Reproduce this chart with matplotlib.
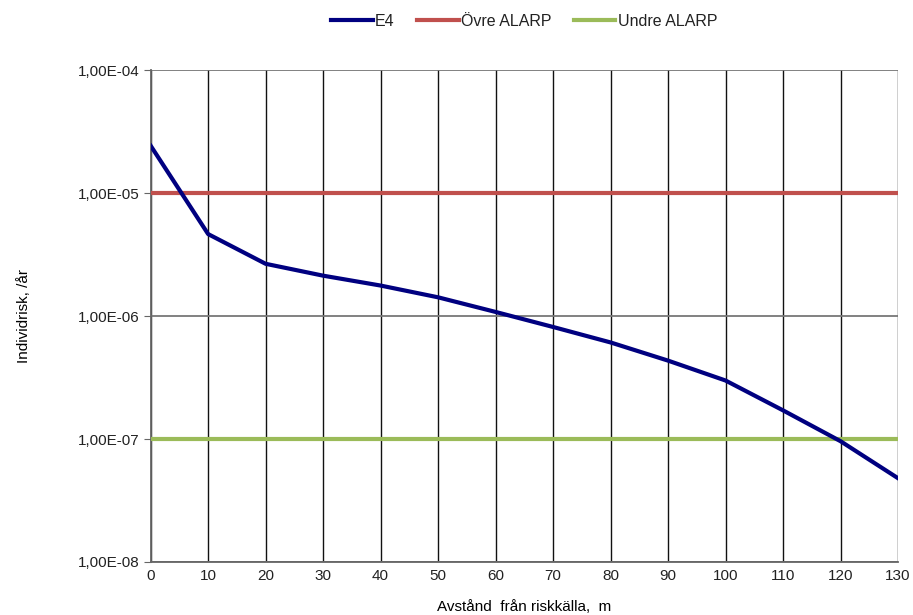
import matplotlib
matplotlib.use("Agg")
import matplotlib.pyplot as plt
from matplotlib.ticker import FixedLocator, FuncFormatter

plt.rcParams['font.family'] = ['Liberation Sans', 'DejaVu Sans']
plt.rcParams['font.size'] = 11
plt.rcParams['text.color'] = '#222222'
plt.rcParams['xtick.labelcolor'] = '#222222'
plt.rcParams['ytick.labelcolor'] = '#222222'

# data
distance = [0, 10, 20, 30, 40, 50, 60, 70, 80, 90, 100, 110, 120, 130]
e4 = [2.43e-5, 4.64e-6, 2.66e-6, 2.13e-6, 1.77e-6, 1.42e-6, 1.08e-6,
      8.15e-7, 6.1e-7, 4.34e-7, 2.99e-7, 1.71e-7, 9.6e-8, 4.8e-8]
ovre_alarp = [1e-5] * len(distance)
undre_alarp = [1e-7] * len(distance)
yticks = [1e-8, 1e-7, 1e-6, 1e-5, 1e-4]

fig = plt.figure(figsize=(9.13, 6.15), dpi=100)
ax = fig.add_axes([0.165, 0.0862, 0.8186, 0.7998])

# grid
for x in distance:
    ax.axvline(x, color='#111111', lw=1, zorder=1)
for y in yticks:
    ax.axhline(y, color='#777777', lw=1.3, zorder=1)

ax.plot(distance, e4, color='#000080', lw=3, label='E4', zorder=4)
ax.plot(distance, ovre_alarp, color='#c0504d', lw=3, label='Övre ALARP', zorder=3)
ax.plot(distance, undre_alarp, color='#9bbb59', lw=3, label='Undre ALARP', zorder=3)

ax.set_yscale('log')
ax.set_ylim(1e-8, 1e-4)
ax.set_xlim(0, 130)
ax.xaxis.set_major_locator(FixedLocator(distance))
ax.yaxis.set_major_locator(FixedLocator(yticks))
ax.yaxis.set_minor_locator(FixedLocator([]))
ax.yaxis.set_major_formatter(FuncFormatter(lambda v, p: ("%.2E" % v).replace('.', ',')))

for s in ['top', 'right']:
    ax.spines[s].set_visible(False)
for s in ['left', 'bottom']:
    ax.spines[s].set_color('#666666')
    ax.spines[s].set_linewidth(1.3)
ax.tick_params(axis='y', direction='out', length=5, color='#666666', labelsize=11, pad=3)
ax.tick_params(axis='x', length=0, labelsize=11, pad=5)

ax.set_ylabel('Individrisk, /år', fontsize=11, labelpad=34)
ax.set_xlabel('Avstånd  från riskkälla,  m', fontsize=11, labelpad=12)

ax.legend(loc='lower center', bbox_to_anchor=(0.5, 1.055), ncol=3, frameon=False,
          handlelength=2.6, handletextpad=0.15, columnspacing=1.4, fontsize=11.5)

fig.savefig('out.png', dpi=100)
